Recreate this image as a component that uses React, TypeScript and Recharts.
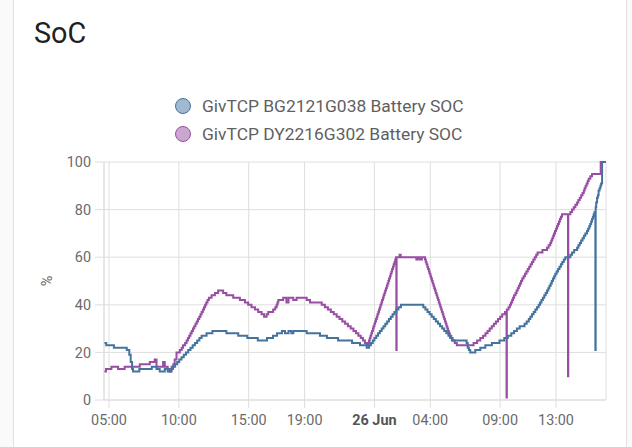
import { LineChart, Line, XAxis, YAxis, CartesianGrid } from "recharts";

// time = hours since 25 Jun 00:00, value = SoC %
const bgSoc: [number, number][] = [
  [4.64, 24], [4.8, 23], [5.35, 22], [6.27, 21], [6.45, 19], [6.55, 16], [6.65, 13], [6.72, 12],
  [7.17, 13], [8.06, 14], [8.4, 13], [8.63, 12], [8.99, 13], [9.2, 12], [9.43, 13], [9.58, 14],
  [9.73, 15], [9.88, 16], [10.03, 17], [10.19, 18], [10.35, 19], [10.51, 20], [10.67, 21],
  [10.83, 22], [10.99, 23], [11.15, 24], [11.31, 25], [11.47, 26], [11.63, 27], [11.98, 28],
  [12.4, 29], [13.4, 28], [14.25, 27], [14.9, 26], [15.65, 25], [16.31, 26], [16.74, 27],
  [17.03, 28], [17.38, 29], [17.6, 28], [17.85, 29], [18.05, 28], [18.2, 29], [19.15, 28],
  [20.1, 27], [20.6, 26], [21.4, 25], [22.4, 24], [22.97, 23], [23.45, 22], [23.62, 23],
  [23.75, 24], [23.88, 25], [24.0, 26], [24.13, 27], [24.26, 28], [24.39, 29], [24.52, 30],
  [24.65, 31], [24.78, 32], [24.91, 33], [25.04, 34], [25.17, 35], [25.3, 36], [25.43, 37],
  [25.56, 38], [25.72, 39], [25.9, 40], [27.5, 39], [27.65, 38], [27.8, 37], [27.95, 36],
  [28.1, 35], [28.25, 34], [28.4, 33], [28.55, 32], [28.7, 31], [28.85, 30], [29.0, 29],
  [29.15, 28], [29.3, 27], [29.42, 26], [29.55, 25], [30.6, 24], [30.68, 22], [30.76, 21],
  [30.86, 20], [31.22, 21], [31.58, 22], [31.94, 23], [32.41, 24], [32.95, 25], [33.3, 26],
  [33.55, 27], [33.8, 28], [34.0, 29], [34.2, 30], [34.4, 31], [34.75, 32], [34.9, 33],
  [35.05, 34], [35.16, 35], [35.28, 36], [35.4, 37], [35.52, 38], [35.64, 39], [35.76, 40],
  [35.86, 41], [35.96, 42], [36.06, 43], [36.16, 44], [36.26, 45], [36.36, 46], [36.45, 47],
  [36.53, 48], [36.62, 49], [36.7, 50], [36.78, 51], [36.87, 52], [36.95, 53], [37.05, 54],
  [37.15, 55], [37.25, 56], [37.35, 57], [37.45, 58], [37.56, 59], [37.67, 60], [38.03, 61],
  [38.15, 62], [38.3, 63], [38.51, 64], [38.6, 65], [38.7, 66], [38.8, 67], [38.9, 68],
  [39.0, 69], [39.1, 70], [39.22, 71], [39.3, 72], [39.38, 73], [39.45, 74], [39.52, 75],
  [39.58, 76], [39.64, 77], [39.7, 78], [39.76, 79], [39.82, 21], [39.84, 81], [39.88, 83],
  [39.94, 85], [40.0, 86], [40.05, 88], [40.12, 89], [40.18, 90], [40.23, 91], [40.3, 100],
  [40.58, 100],
];

const dySoc: [number, number][] = [
  [4.64, 12], [4.78, 13], [5.17, 14], [5.65, 13], [6.12, 14], [7.2, 15], [7.92, 16], [8.27, 17],
  [8.4, 14], [8.87, 16], [8.99, 14], [9.2, 13], [9.33, 12], [9.48, 14], [9.6, 15], [9.7, 17],
  [9.83, 20], [10.07, 21], [10.2, 22], [10.3, 23], [10.45, 24], [10.55, 25], [10.65, 26],
  [10.74, 27], [10.83, 28], [10.92, 29], [11.01, 30], [11.1, 31], [11.19, 32], [11.28, 33],
  [11.37, 34], [11.46, 35], [11.55, 36], [11.63, 37], [11.72, 38], [11.8, 39], [11.88, 40],
  [11.96, 41], [12.05, 42], [12.15, 43], [12.34, 44], [12.58, 45], [12.81, 46], [13.17, 45],
  [13.4, 44], [13.89, 43], [14.37, 42], [14.73, 41], [14.96, 40], [15.2, 39], [15.45, 38],
  [15.68, 37], [15.92, 36], [16.1, 35], [16.28, 36], [16.4, 37], [16.75, 38], [16.9, 39],
  [17.0, 40], [17.06, 41], [17.12, 42], [17.47, 43], [17.7, 41], [17.85, 43], [18.19, 42],
  [18.43, 43], [19.15, 42], [19.39, 41], [20.23, 40], [20.45, 39], [20.67, 38], [20.88, 37],
  [21.09, 36], [21.3, 35], [21.5, 34], [21.7, 33], [21.9, 32], [22.1, 31], [22.3, 30],
  [22.5, 29], [22.68, 28], [22.85, 27], [23.02, 26], [23.18, 25], [23.32, 24], [23.45, 23],
  [23.56, 24], [23.61, 25], [23.67, 26], [23.72, 27], [23.78, 28], [23.83, 29], [23.89, 30],
  [23.94, 31], [24.0, 32], [24.05, 33], [24.11, 34], [24.17, 35], [24.22, 36], [24.28, 37],
  [24.33, 38], [24.39, 39], [24.44, 40], [24.5, 41], [24.55, 42], [24.61, 43], [24.66, 44],
  [24.72, 45], [24.77, 46], [24.83, 47], [24.89, 48], [24.94, 49], [25.0, 50], [25.05, 51],
  [25.11, 52], [25.16, 53], [25.22, 54], [25.27, 55], [25.33, 56], [25.38, 57], [25.44, 58],
  [25.49, 59], [25.55, 60], [25.57, 21], [25.59, 60], [25.8, 61], [25.88, 60], [27.0, 59],
  [27.1, 60], [27.25, 59], [27.4, 60], [27.62, 59], [27.68, 58], [27.73, 57], [27.79, 56],
  [27.84, 55], [27.9, 54], [27.95, 53], [28.01, 52], [28.06, 51], [28.12, 50], [28.17, 49],
  [28.23, 48], [28.28, 47], [28.34, 46], [28.39, 45], [28.45, 44], [28.5, 43], [28.56, 42],
  [28.61, 41], [28.67, 40], [28.72, 39], [28.78, 38], [28.83, 37], [28.89, 36], [28.94, 35],
  [29.0, 34], [29.05, 33], [29.11, 32], [29.16, 31], [29.22, 30], [29.27, 29], [29.33, 28],
  [29.4, 27], [29.5, 26], [29.6, 25], [29.75, 24], [29.9, 23], [31.1, 24], [31.35, 25],
  [31.58, 26], [31.78, 27], [31.95, 28], [32.1, 29], [32.25, 30], [32.4, 31], [32.55, 32],
  [32.7, 33], [32.85, 34], [33.0, 35], [33.15, 36], [33.35, 37], [33.46, 1], [33.48, 38],
  [33.6, 39], [33.7, 40], [33.78, 41], [33.86, 42], [33.93, 43], [34.0, 44], [34.1, 45],
  [34.18, 46], [34.26, 47], [34.34, 48], [34.42, 49], [34.5, 50], [34.58, 51], [34.68, 52],
  [34.78, 53], [34.88, 54], [34.98, 55], [35.08, 56], [35.18, 57], [35.28, 58], [35.38, 59],
  [35.48, 60], [35.58, 61], [35.68, 62], [36.03, 63], [36.36, 64], [36.47, 65], [36.59, 66],
  [36.66, 67], [36.73, 68], [36.8, 69], [36.86, 70], [36.93, 71], [37.0, 72], [37.07, 73],
  [37.14, 74], [37.21, 75], [37.28, 76], [37.35, 77], [37.43, 78], [37.86, 10], [37.88, 78],
  [38.03, 79], [38.15, 80], [38.27, 81], [38.39, 82], [38.51, 83], [38.6, 84], [38.7, 85],
  [38.8, 86], [38.9, 87], [38.99, 88], [39.05, 89], [39.12, 90], [39.2, 91], [39.27, 92],
  [39.34, 93], [39.46, 94], [39.58, 95], [40.2, 100], [40.58, 100],
];

const tickHours = [5, 10, 15, 19, 24, 28, 33, 37];
const tickLabels = ["05:00", "10:00", "15:00", "19:00", "26 Jun", "04:00", "09:00", "13:00"];
const yTicks = [0, 20, 40, 60, 80, 100];

const BLUE = "#44739e";
const PURPLE = "#984ea3";
const GRID = "#dedede";
const FONT = "Roboto, sans-serif";

const legendItems = [
  { name: "GivTCP BG2121G038 Battery SOC", color: BLUE, fill: "rgba(68,115,158,0.5)" },
  { name: "GivTCP DY2216G302 Battery SOC", color: PURPLE, fill: "rgba(152,78,163,0.5)" },
];

const bgData = bgSoc.map(([t, v]) => ({ t, v }));
const dyData = dySoc.map(([t, v]) => ({ t, v }));

function XTick(props: any) {
  const { x, y, payload } = props;
  const i = tickHours.indexOf(payload.value);
  const label = tickLabels[i] ?? "";
  const bold = label === "26 Jun";
  return (
    <text
      x={x}
      y={y}
      dy="0.71em"
      textAnchor="middle"
      fontFamily={FONT}
      fontSize={14.4}
      fontWeight={bold ? 700 : 400}
      fill={bold ? "#555" : "#6a6a6a"}
    >
      {label}
    </text>
  );
}

export default function App() {
  return (
    <div
      style={{
        position: "absolute",
        left: 0,
        top: 0,
        width: 632,
        height: 447,
        overflow: "hidden",
        background: "#fafafa",
        fontFamily: FONT,
      }}
    >
      <div
        style={{
          position: "absolute",
          left: 13,
          top: -20,
          width: 612,
          height: 520,
          background: "#fff",
          border: "1px solid #e0e0e0",
          borderRadius: 12,
        }}
      />
      <div
        style={{
          position: "absolute",
          left: 34,
          top: 19,
          fontSize: 28.8,
          lineHeight: "28.8px",
          color: "#212121",
        }}
      >
        SoC
      </div>
      <div style={{ position: "absolute", left: 175, top: 92 }}>
        {legendItems.map((it) => (
          <div key={it.name} style={{ display: "flex", alignItems: "center", height: 28 }}>
            <span
              style={{
                width: 14,
                height: 14,
                borderRadius: "50%",
                background: it.fill,
                border: `1.5px solid ${it.color}`,
                marginRight: 11,
                flexShrink: 0,
              }}
            />
            <span style={{ fontSize: 17.4, color: "#5f5f5f", whiteSpace: "nowrap" }}>{it.name}</span>
          </div>
        ))}
      </div>
      <LineChart
        width={632}
        height={447}
        margin={{ top: 162, right: 26, bottom: 17, left: 44 }}
        style={{ position: "absolute", left: 0, top: 0 }}
      >
        <CartesianGrid stroke={GRID} />
        <XAxis
          dataKey="t"
          type="number"
          domain={[4.64, 40.58]}
          ticks={tickHours}
          tick={<XTick />}
          tickSize={8}
          tickMargin={7}
          stroke={GRID}
          allowDataOverflow
        />
        <YAxis
          width={60}
          domain={[0, 100]}
          ticks={yTicks}
          tickSize={9}
          tickMargin={4}
          stroke={GRID}
          tick={{ fill: "#6a6a6a", fontSize: 14.4, fontFamily: FONT }}
          label={{
            value: "%",
            angle: -90,
            position: "insideLeft",
            offset: 3,
            style: { textAnchor: "middle", fill: "#6a6a6a", fontSize: 14.4, fontFamily: FONT },
          }}
        />
        <Line
          data={dyData}
          dataKey="v"
          type="stepAfter"
          stroke={PURPLE}
          strokeWidth={2}
          dot={false}
          isAnimationActive={false}
        />
        <Line
          data={bgData}
          dataKey="v"
          type="stepAfter"
          stroke={BLUE}
          strokeWidth={2}
          dot={false}
          isAnimationActive={false}
        />
      </LineChart>
    </div>
  );
}
